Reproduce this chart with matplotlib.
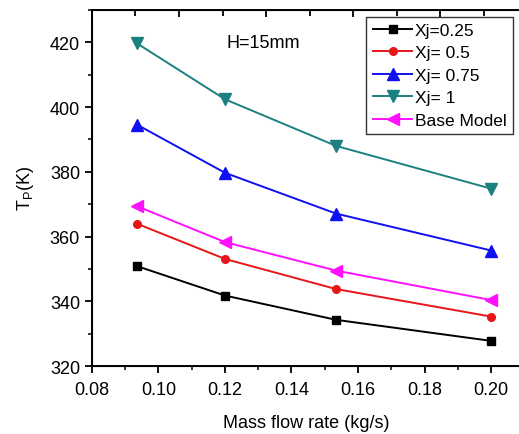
import matplotlib.pyplot as plt
from matplotlib.ticker import MultipleLocator

plt.rcParams['font.family'] = ['Liberation Sans', 'DejaVu Sans']

flow = [0.0935, 0.12, 0.1534, 0.2]
xj025 = [350.9, 341.8, 334.3, 327.8]
xj05 = [364.0, 353.1, 343.8, 335.3]
xj075 = [394.6, 379.7, 367.1, 355.7]
xj1 = [419.7, 402.4, 388.0, 374.8]
base = [369.4, 358.3, 349.5, 340.4]

fig = plt.figure(figsize=(5.19, 4.35), dpi=100)
ax = fig.add_axes([0.177, 0.156, 0.827, 0.819])

ax.plot(flow, xj025, '-s', color='black', ms=5.5, lw=1.4, label='Xj=0.25')
ax.plot(flow, xj05, '-o', color='#e8161b', ms=5.5, lw=1.4, label='Xj= 0.5')
ax.plot(flow, xj075, '-^', color='#1010f0', ms=8, lw=1.4, label='Xj= 0.75')
ax.plot(flow, xj1, '-v', color='#1b8080', ms=8, lw=1.4, label='Xj= 1')
ax.plot(flow, base, '-<', color='#ff10ff', ms=8, lw=1.4, label='Base Model')

ax.text(0.1315, 420, 'H=15mm', fontsize=13, ha='center', va='center')

ax.set_xlim(0.08, 0.209)
ax.set_ylim(320, 430)
ax.xaxis.set_major_locator(MultipleLocator(0.02))
ax.xaxis.set_minor_locator(MultipleLocator(0.01))
ax.yaxis.set_major_locator(MultipleLocator(20))
ax.yaxis.set_minor_locator(MultipleLocator(10))
ax.xaxis.set_major_formatter(plt.FormatStrFormatter('%.2f'))
ax.tick_params(which='both', direction='out', labelsize=13)
ax.tick_params(axis='x', pad=6)
ax.tick_params(which='major', length=5, width=1.3)
ax.tick_params(which='minor', length=3, width=1.1)
for s in ax.spines.values():
    s.set_linewidth(1.4)

# top axis ticks (inward, unlabeled)
top = ax.twiny()
top.set_xlim(0, 9.85)
top.xaxis.set_major_locator(MultipleLocator(2))
top.xaxis.set_minor_locator(MultipleLocator(1))
top.tick_params(which='both', direction='in', labeltop=False)
top.tick_params(which='major', length=5, width=1.3)
top.tick_params(which='minor', length=4, width=1.3)

ax.set_xlabel('Mass flow rate (kg/s)', fontsize=13, labelpad=11)
ax.set_ylabel('T$_\\mathregular{P}$(K)', fontsize=13, labelpad=10)

leg = ax.legend(loc='upper right', bbox_to_anchor=(0.981, 0.981), fontsize=12.5,
                fancybox=False, edgecolor='black', handlelength=2.3,
                handletextpad=0.15, labelspacing=0.42, borderpad=0.35,
                borderaxespad=0)
leg.get_frame().set_linewidth(1.0)

fig.savefig('out.png', dpi=100)
